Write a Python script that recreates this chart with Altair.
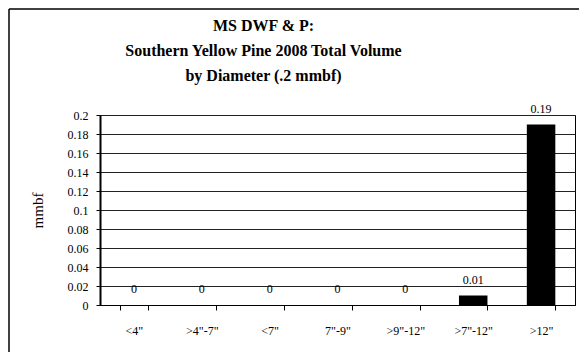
import altair as alt
import pandas as pd

categories = ['<4"', '>4"-7"', '<7"', '7"-9"', '>9"-12"', '>7"-12"', '>12"']
volumes = [0, 0, 0, 0, 0, 0.01, 0.19]
y_ticks = [0, 0.02, 0.04, 0.06, 0.08, 0.1, 0.12, 0.14, 0.16, 0.18, 0.2]
title_lines = ["MS DWF & P:", "Southern Yellow Pine 2008 Total Volume", "by Diameter (.2 mmbf)"]

df = pd.DataFrame({"diameter": categories, "volume": volumes})

FONT = "Liberation Serif"

x = alt.X(
    "diameter:N",
    sort=categories,
    title=None,
    scale=alt.Scale(paddingInner=0.58, paddingOuter=0.29),
    axis=alt.Axis(
        labelAngle=0, labelFont=FONT, labelFontSize=12, labelColor="black",
        tickBand="extent", tickColor="black", tickSize=5, labelPadding=15,
        domainColor="black", domainWidth=1, grid=False,
    ),
)
y = alt.Y(
    "volume:Q",
    title="mmbf",
    scale=alt.Scale(domain=[0, 0.2], nice=False),
    axis=alt.Axis(
        values=y_ticks, format=".2~f", labelFont=FONT, labelFontSize=12, labelColor="black",
        titleFont=FONT, titleFontSize=15, titleFontWeight="normal", titleColor="black",
        titlePadding=22, tickColor="black", tickSize=4, labelPadding=8,
        domainColor="black", domainWidth=2, grid=True, gridColor="#222",
        gridWidth=1, gridOpacity=1,
    ),
)

bars = alt.Chart(df).mark_bar(color="black").encode(x=x, y=y)
labels = alt.Chart(df).mark_text(
    font=FONT, fontSize=12, color="black", baseline="alphabetic", dy=-12
).encode(x=x, y=y, text=alt.Text("volume:Q", format=".2~f"))

frame_data = alt.Data(values=[{"k": 1}])
frame_left = alt.Chart(frame_data).mark_rule(color="black", strokeWidth=1.5).encode(
    x=alt.value(-91), y=alt.value(-106), y2=alt.value(300),
)
frame_top = alt.Chart(frame_data).mark_rule(color="black", strokeWidth=1.5).encode(
    x=alt.value(-91), x2=alt.value(520), y=alt.value(-106),
)

chart = alt.layer(bars, labels, frame_left, frame_top).properties(
    width=475,
    height=190,
    title=alt.TitleParams(
        text=title_lines, font=FONT, fontSize=16, fontWeight="bold",
        lineHeight=25, anchor="middle", dx=-74, offset=-92, baseline="bottom",
        color="black",
    ),
    autosize=alt.AutoSizeParams(type="none"),
    padding={"left": 92, "top": 107, "right": 4, "bottom": 47},
).configure_view(stroke="black", strokeWidth=1)

chart.save("out.html", embed_options={"renderer": "svg", "actions": False})
